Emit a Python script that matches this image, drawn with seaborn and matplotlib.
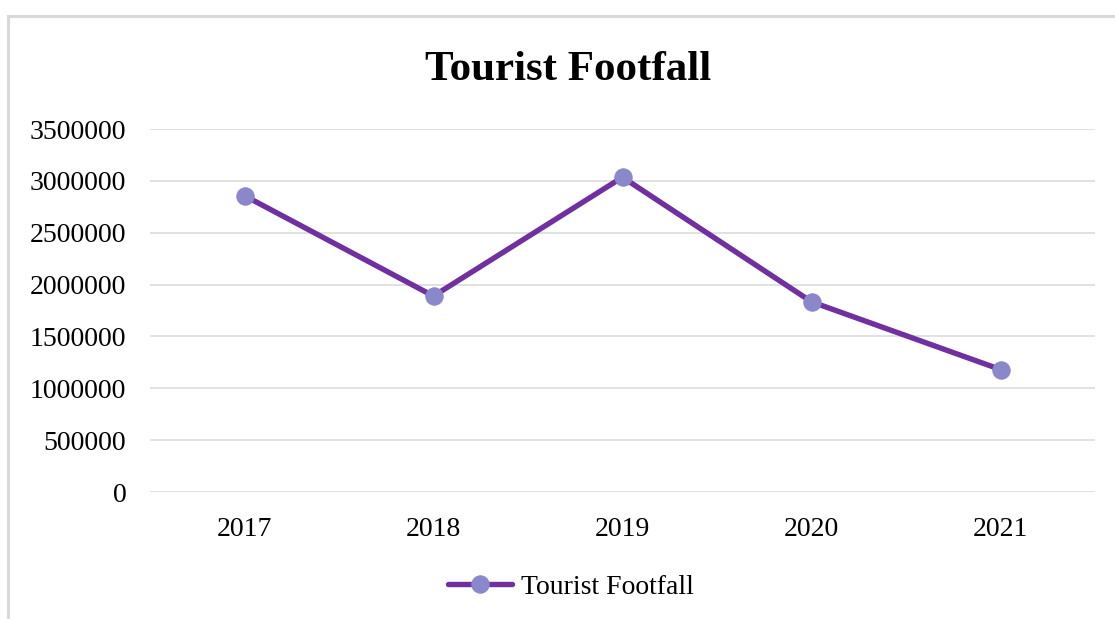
import matplotlib
matplotlib.use("Agg")
import matplotlib.pyplot as plt
from matplotlib.patches import Rectangle
import seaborn as sns
import pandas as pd

# Annual tourist footfall
years = ["2017", "2018", "2019", "2020", "2021"]
footfall = [2857000, 1889000, 3035000, 1834000, 1181000]
y_ticks = [0, 500000, 1000000, 1500000, 2000000, 2500000, 3000000, 3500000]
series_name = "Tourist Footfall"

df = pd.DataFrame({"Year": years, "Footfall": footfall})

sns.set_theme(style="white")
plt.rcParams["font.family"] = ["Liberation Serif", "DejaVu Serif"]
plt.rcParams["text.color"] = "black"

line_color = "#7030A0"
marker_color = "#8B87CB"
grid_color = "#D9D9D9"

fig = plt.figure(figsize=(11.15, 6.19), dpi=100)
fig.patch.set_facecolor("white")

# chart-area frame (top and left edges visible)
fig.patches.append(Rectangle((8 / 1115, -0.1), 1.2, (619 - 16) / 619 + 0.1,
                             transform=fig.transFigure, fill=False,
                             edgecolor=grid_color, linewidth=2.2))

ax = fig.add_axes([150 / 1115, 127 / 619, 945 / 1115, 363 / 619])

sns.lineplot(data=df, x="Year", y="Footfall", ax=ax, color=line_color,
             linewidth=3.9, marker="o", markersize=12.5,
             markerfacecolor=marker_color, markeredgecolor=marker_color,
             label=series_name, sort=False, zorder=3)

ax.set_xlim(-0.5, len(years) - 0.5)
ax.set_ylim(0, 3500000)
ax.set_yticks(y_ticks)
ax.set_yticklabels([str(v) for v in y_ticks])
ax.yaxis.grid(True, color=grid_color, linewidth=1.1)
ax.xaxis.grid(False)
for s in ax.spines.values():
    s.set_visible(False)
ax.tick_params(axis="y", length=0, pad=17, labelsize=20, colors="black")
ax.tick_params(axis="x", length=0, pad=18, labelsize=20, colors="black")
ax.set_xlabel("")
ax.set_ylabel("")

fig.text(568 / 1115, (619 - 80) / 619, "Tourist Footfall", ha="center",
         va="baseline", fontsize=31, fontweight="bold", color="black")

leg = ax.legend(loc="center", bbox_to_anchor=(571 / 1115, 32 / 619),
                bbox_transform=fig.transFigure, frameon=False, fontsize=20,
                handlelength=2.3, handletextpad=0.3, borderpad=0)
for t in leg.get_texts():
    t.set_color("black")

fig.savefig("out.png", dpi=100, facecolor="white")
